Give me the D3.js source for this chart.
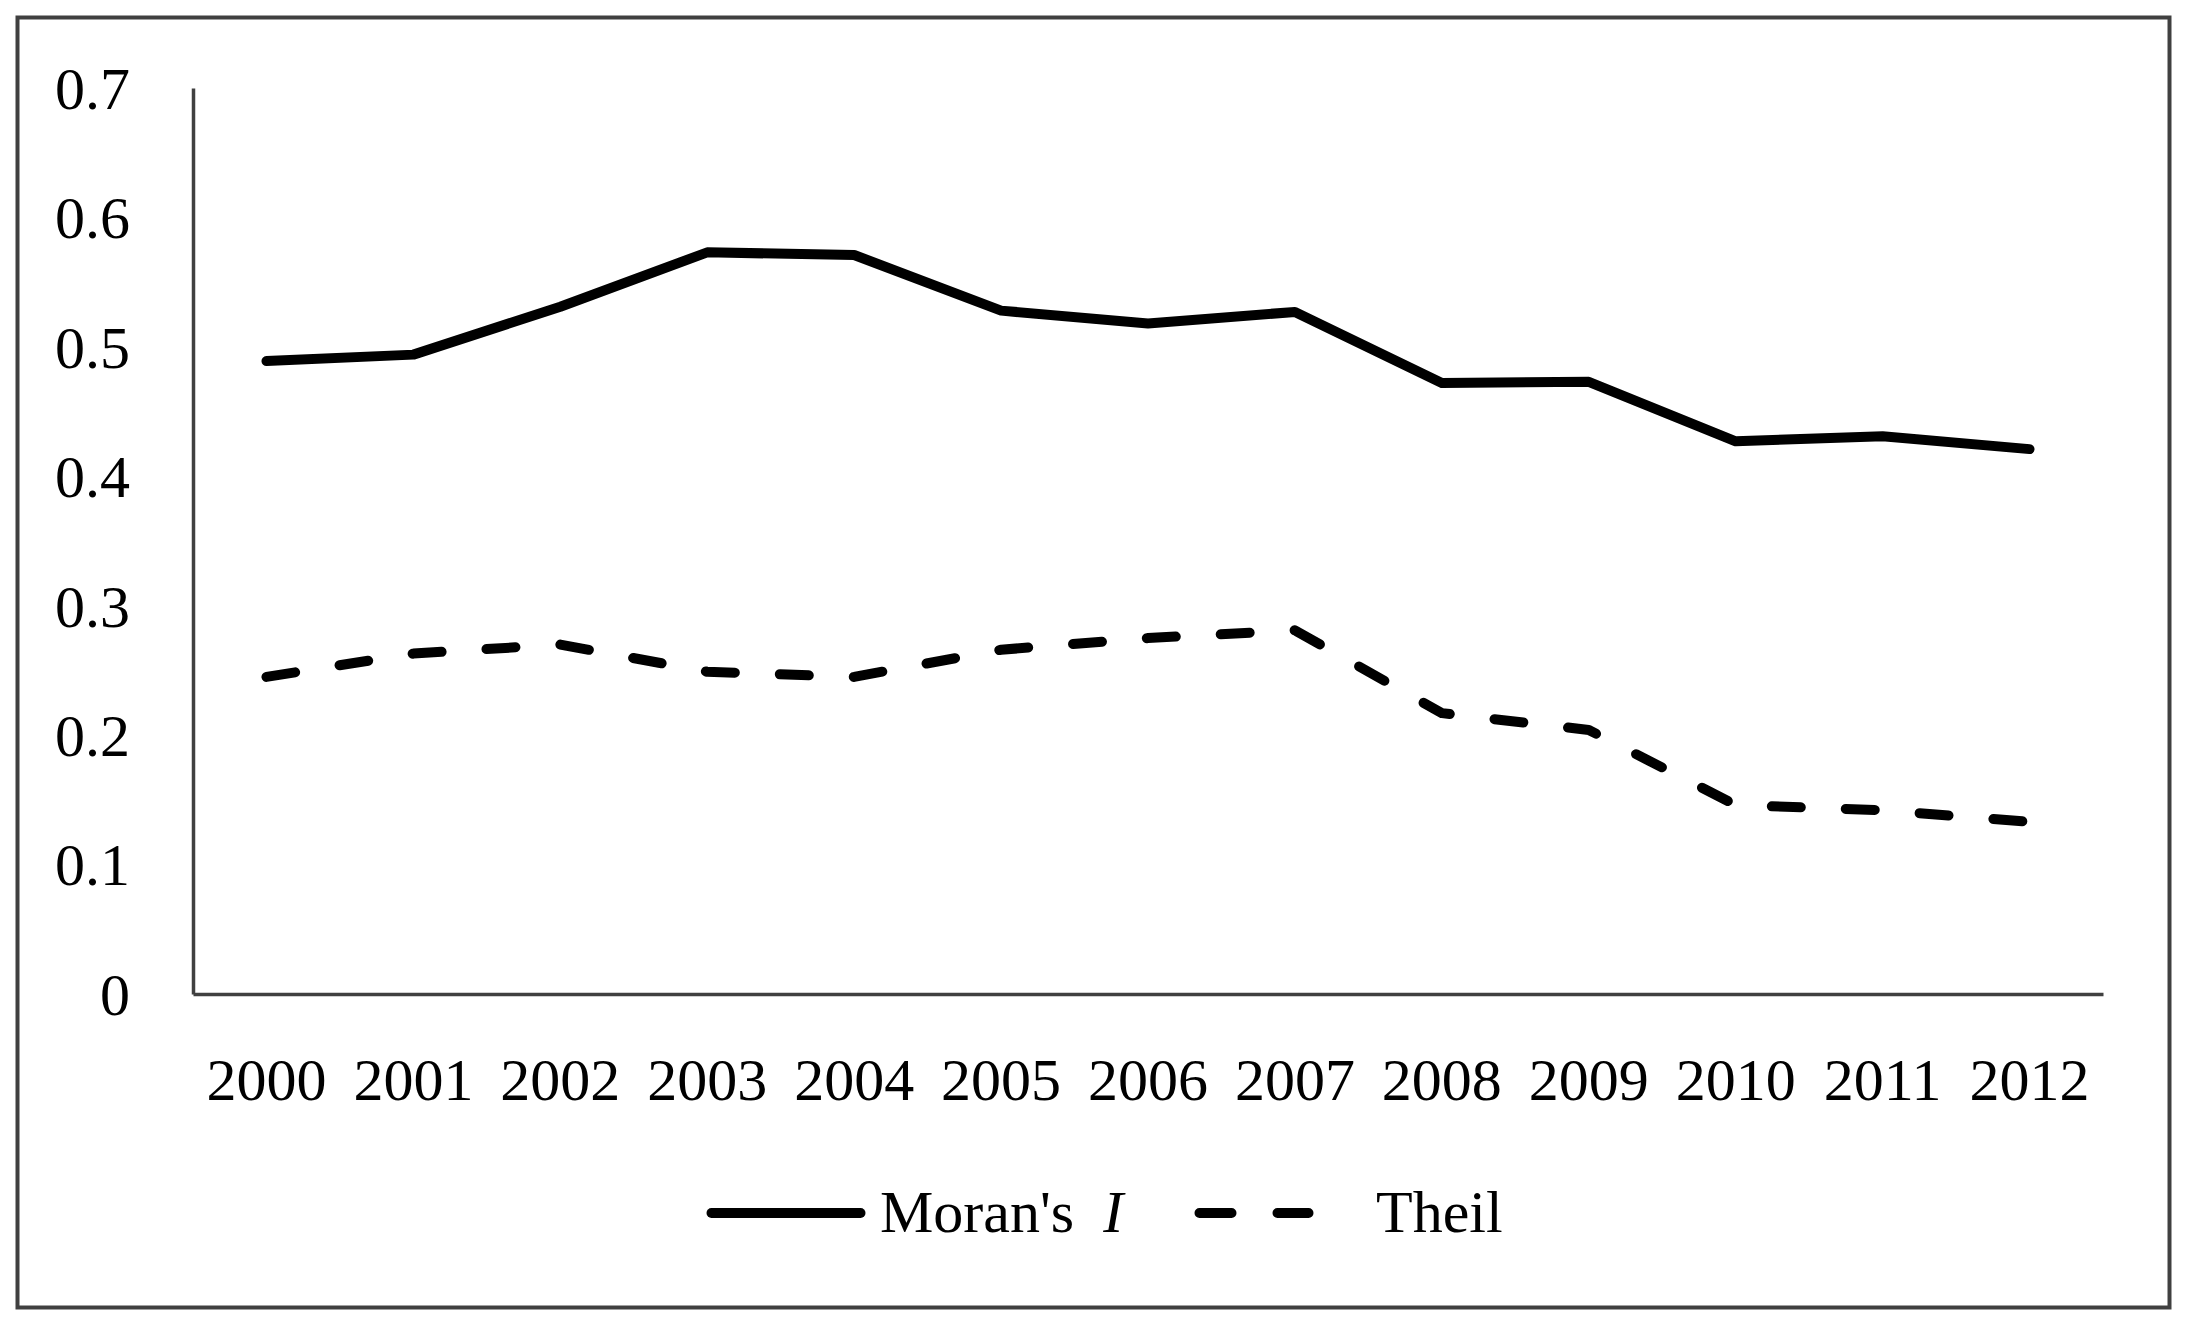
<!DOCTYPE html>
<html>
<head>
<meta charset="utf-8">
<script src="https://cdn.jsdelivr.net/npm/d3@7"></script>
<style>
  html, body { margin: 0; padding: 0; background: #fff; }
  svg { display: block; }
  text { font-family: "Liberation Serif", "Times New Roman", serif; }
</style>
</head>
<body>
<svg id="chart" width="2193" height="1328"></svg>
<script>
const years = ["2000","2001","2002","2003","2004","2005","2006","2007","2008","2009","2010","2011","2012"];
const moranI = [0.489, 0.494, 0.531, 0.573, 0.571, 0.528, 0.518, 0.527, 0.472, 0.473, 0.427, 0.431, 0.421];
const theil  = [0.245, 0.263, 0.270, 0.249, 0.245, 0.266, 0.275, 0.281, 0.217, 0.204, 0.146, 0.142, 0.133];
const yTicks = [0, 0.1, 0.2, 0.3, 0.4, 0.5, 0.6, 0.7];
const yTickLabels = ["0", "0.1", "0.2", "0.3", "0.4", "0.5", "0.6", "0.7"];
const seriesNames = ["Moran's ", "I", "Theil"];

(function () {
const svg = d3.select("#chart");
const axisColor = "#404040";

// outer frame
svg.append("rect")
  .attr("x", 17.5).attr("y", 17.5)
  .attr("width", 2152).attr("height", 1290)
  .attr("fill", "#fff")
  .attr("stroke", axisColor).attr("stroke-width", 4);

const pLeft = 193, pRight = 2103, pTop = 88, pBottom = 994;

const x = d3.scaleBand().domain(years).range([pLeft, pRight]);
const y = d3.scaleLinear().domain([0, 0.7]).range([pBottom, pTop]);
const cx = d => x(d) + x.bandwidth() / 2;

// axes
const xAxis = d3.axisBottom(x).tickSize(0).tickSizeOuter(0).tickPadding(63);
const gx = svg.append("g").attr("transform", `translate(0,${pBottom})`).call(xAxis);
gx.select(".domain").attr("stroke", axisColor).attr("stroke-width", 3.5);
gx.selectAll("text").attr("font-size", 60).attr("fill", "#000")
  .attr("font-family", "Liberation Serif");

const yAxis = d3.axisLeft(y).tickValues(yTicks)
  .tickFormat((d, i) => yTickLabels[i]).tickSize(0).tickSizeOuter(0).tickPadding(63);
const gy = svg.append("g").attr("transform", `translate(${pLeft},0)`).call(yAxis);
gy.select(".domain").attr("stroke", axisColor).attr("stroke-width", 3.5);
gy.selectAll("text").attr("font-size", 60).attr("fill", "#000")
  .attr("font-family", "Liberation Serif").attr("dy", "0.34em");

// lines
const lineGen = d3.line().x((d, i) => cx(years[i])).y(d => y(d));

svg.append("path").datum(moranI)
  .attr("d", lineGen)
  .attr("fill", "none").attr("stroke", "#000").attr("stroke-width", 10)
  .attr("stroke-linejoin", "round").attr("stroke-linecap", "round");

svg.append("path").datum(theil)
  .attr("d", lineGen)
  .attr("fill", "none").attr("stroke", "#000").attr("stroke-width", 10)
  .attr("stroke-dasharray", "29,45")
  .attr("stroke-linejoin", "round").attr("stroke-linecap", "round");

// legend
const ly = 1213, lb = 1232;
svg.append("line")
  .attr("x1", 711.5).attr("x2", 860.5).attr("y1", ly).attr("y2", ly)
  .attr("stroke", "#000").attr("stroke-width", 10).attr("stroke-linecap", "round");
const t1 = svg.append("text").attr("x", 880).attr("y", lb)
  .attr("font-size", 60).attr("fill", "#000");
t1.append("tspan").text(seriesNames[0]);
t1.append("tspan").attr("dx", 14).attr("font-style", "italic").text(seriesNames[1]);

svg.append("line")
  .attr("x1", 1199.5).attr("x2", 1308.5).attr("y1", ly).attr("y2", ly)
  .attr("stroke", "#000").attr("stroke-width", 10).attr("stroke-linecap", "round")
  .attr("stroke-dasharray", "32,46");
svg.append("text").attr("x", 1376).attr("y", lb)
  .attr("font-size", 60).attr("fill", "#000").text(seriesNames[2]);
})();
</script>
</body>
</html>
